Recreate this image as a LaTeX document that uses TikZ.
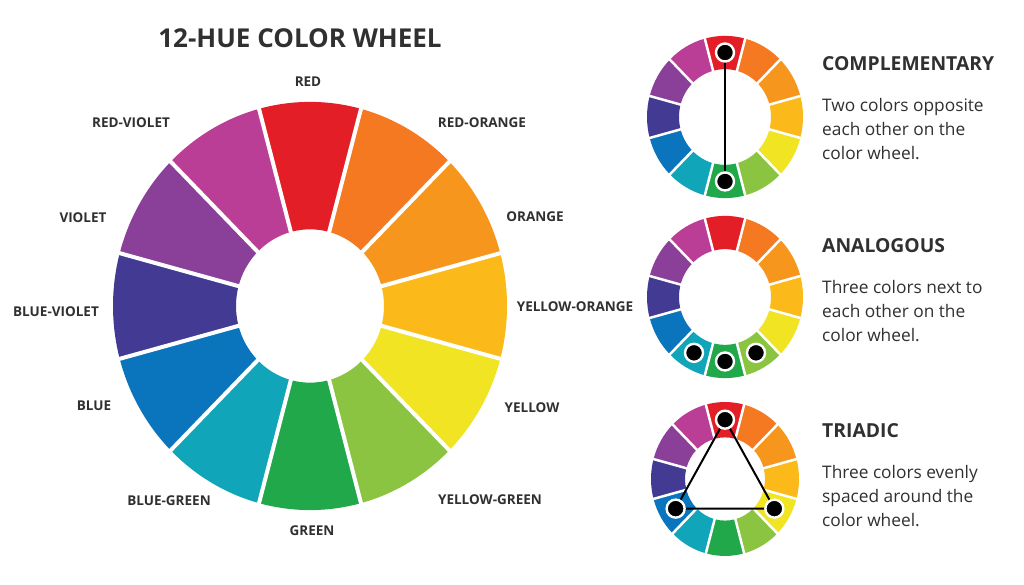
\documentclass[tikz,border=0pt]{standalone}
\usepackage{fontspec}
\setmainfont{Open Sans}
\definecolor{cR}{HTML}{E41E26}
\definecolor{cRO}{HTML}{F47920}
\definecolor{cO}{HTML}{F7961D}
\definecolor{cYO}{HTML}{FCBA1A}
\definecolor{cY}{HTML}{F0E423}
\definecolor{cYG}{HTML}{8AC440}
\definecolor{cG}{HTML}{21A84A}
\definecolor{cBG}{HTML}{10A5B8}
\definecolor{cB}{HTML}{0A74BC}
\definecolor{cBV}{HTML}{433A93}
\definecolor{cV}{HTML}{8A3F99}
\definecolor{cRV}{HTML}{BB3E96}
\definecolor{txt}{HTML}{303030}
\newcommand\colorwheel[6]{%
\begin{scope}[shift={(#1,#2)}, yscale=#6]
  \foreach \c [count=\i from 0] in {cR,cRO,cO,cYO,cY,cYG,cG,cBG,cB,cBV,cV,cRV} {
    \pgfmathsetmacro\ao{75-30*\i}
    \pgfmathsetmacro\at{105-30*\i}
    \fill[\c] (\ao:#3pt) arc[start angle=\ao, end angle=\at, radius=#3pt]
      -- (\at:#4pt) arc[start angle=\at, end angle=\ao, radius=#4pt] -- cycle;
  }
  \pgfmathsetmacro\ri{#3-2}
  \pgfmathsetmacro\ro{#4+2}
  \foreach \k in {0,...,11} {
    \pgfmathsetmacro\ak{75-30*\k}
    \draw[white, line width=#5pt] (\ak:\ri pt) -- (\ak:\ro pt);
  }
\end{scope}}
\begin{document}
\begin{tikzpicture}[x=1pt, y=1pt,
  lbl/.style={font=\bfseries\fontsize{13.5}{15}\selectfont, text=txt, inner sep=0},
  ttl/.style={font=\bfseries\fontsize{26}{30}\selectfont, text=txt, inner sep=0},
  head/.style={font=\bfseries\fontsize{19.3}{22}\selectfont, text=txt, inner sep=0, anchor=base west},
  body/.style={font=\fontsize{17.3}{20}\selectfont, text=txt, inner sep=0, anchor=base west},
  dot/.style={circle, fill=black, draw=white, line width=2.4pt, minimum size=18pt, inner sep=0},
  link/.style={draw=black, line width=2pt}]
\useasboundingbox (0,0) rectangle (1024,585);
\fill[white] (0,0) rectangle (1024,585);

% big wheel
\colorwheel{310}{279}{74}{197}{4}{1.036}
\node[ttl] (title) at (300,547) {12-HUE COLOR WHEEL};
\node[lbl] (lR)  at (308,503) {RED};
\node[lbl] (lRO) at (482,462) {RED-ORANGE};
\node[lbl] (lO)  at (535,368) {ORANGE};
\node[lbl] (lYO) at (575,278) {YELLOW-ORANGE};
\node[lbl] (lY)  at (532,177) {YELLOW};
\node[lbl] (lYG) at (490,85)  {YELLOW-GREEN};
\node[lbl] (lG)  at (312,54)  {GREEN};
\node[lbl] (lBG) at (169,84)  {BLUE-GREEN};
\node[lbl] (lB)  at (94,179)  {BLUE};
\node[lbl] (lBV) at (56,273)  {BLUE-VIOLET};
\node[lbl] (lV)  at (83,367)  {VIOLET};
\node[lbl] (lRV) at (131,462) {RED-VIOLET};

% complementary
\colorwheel{725}{468}{46}{78}{2.5}{1.04}
\begin{scope}[shift={(725,468)}, yscale=1.04]
  \coordinate (c1) at (90:62pt);
  \coordinate (c2) at (-90:62pt);
\end{scope}
\draw[link] (c1) -- (c2);
\node[dot] (dc1) at (c1) {};
\node[dot] (dc2) at (c2) {};
\node[head] (hC) at (822,514) {COMPLEMENTARY};
\node[body] (bC1) at (822,473) {Two colors opposite};
\node[body] (bC2) at (822,449) {each other on the};
\node[body] (bC3) at (822,425) {color wheel.};

% analogous
\colorwheel{725}{288}{46}{78}{2.5}{1.04}
\begin{scope}[shift={(725,288)}, yscale=1.04]
  \node[dot] (da1) at (-120:62pt) {};
  \node[dot] (da2) at (-90:62pt) {};
  \node[dot] (da3) at (-60:62pt) {};
\end{scope}
\node[head] (hA) at (822,332) {ANALOGOUS};
\node[body] (bA1) at (822,291) {Three colors next to};
\node[body] (bA2) at (822,267) {each other on the};
\node[body] (bA3) at (822,243) {color wheel.};

% triadic
\colorwheel{725}{106}{40}{74}{2.5}{1.04}
\begin{scope}[shift={(725,106)}, yscale=1.04]
  \coordinate (t1) at (90:57pt);
  \coordinate (t2) at (-30:57pt);
  \coordinate (t3) at (210:57pt);
\end{scope}
\draw[link, line join=round] (t1) -- (t2) -- (t3) -- cycle;
\node[dot] (dt1) at (t1) {};
\node[dot] (dt2) at (t2) {};
\node[dot] (dt3) at (t3) {};
\node[head] (hT) at (822,147) {TRIADIC};
\node[body] (bT1) at (822,106) {Three colors evenly};
\node[body] (bT2) at (822,82)  {spaced around the};
\node[body] (bT3) at (822,58)  {color wheel.};
\end{tikzpicture}
\end{document}
